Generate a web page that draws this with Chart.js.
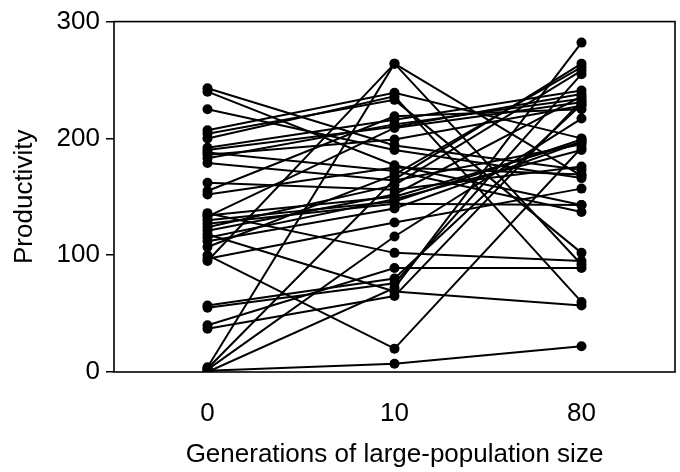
<!DOCTYPE html>
<html>
<head>
<meta charset="utf-8">
<script src="https://cdn.jsdelivr.net/npm/chart.js@4.4.1/dist/chart.umd.min.js"></script>
<style>
  html, body { margin: 0; padding: 0; background: #fff; }
  #wrap { width: 680px; height: 472px; }
</style>
</head>
<body>
<div id="wrap"><canvas id="chart01" width="680" height="472"></canvas></div>
<script>
// generations (x categories)
var generations = ['0', '10', '80'];
var yTicks = [0, 100, 200, 300];

// productivity of each line at generation 0, 10 and 80 (same index = same line)
var gen0  = [243, 240, 225, 207, 204, 200, 192, 188, 186, 183, 179, 162, 155, 152, 136, 133, 130, 127, 124,
             121, 118, 115, 112, 107, 100, 97, 95, 57, 55, 40, 37, 4, 3, 2, 1, 0, 134, 190];
var gen10 = [194, 177, 190, 239, 233, 236, 216, 172, 199, 212, 164, 156, 219, 175, 102, 209, 146, 144, 160,
             152, 69, 148, 140, 169, 20, 128, 264, 80, 76, 89, 65, 264, 165, 116, 7, 72, 150, 210];
var gen80 = [173, 143, 166, 200, 102, 60, 241, 137, 228, 234, 195, 176, 225, 169, 95, 231, 199, 143, 258,
             236, 57, 190, 197, 261, 192, 157, 92, 229, 255, 89, 232, 168, 264, 217, 22, 282, 197, 238];

var FONT = "'Liberation Sans', Arial, Helvetica, sans-serif";

function buildDatasets () {
  var sets = [];
  for (var i = 0; i < gen0.length; i++) {
    sets.push({
      data: [{x: 0, y: gen0[i]}, {x: 1, y: gen10[i]}, {x: 2, y: gen80[i]}],
      showLine: true,
      borderColor: '#000',
      backgroundColor: '#000',
      borderWidth: 2,
      pointRadius: 5,
      pointBorderWidth: 0,
      pointBackgroundColor: '#000'
    });
  }
  return sets;
}

// frame round the plot area
var boxPlugin = {
  id: 'box',
  beforeDatasetsDraw: function (chart) {
    var a = chart.chartArea, c = chart.ctx;
    c.save();
    c.strokeStyle = '#000';
    c.lineWidth = 1.6;
    c.strokeRect(a.left, a.top, a.right - a.left, a.bottom - a.top);
    c.restore();
  }
};

var ctx = document.getElementById('chart01').getContext('2d');
var chart = new Chart(ctx, {
  type: 'scatter',
  data: { datasets: buildDatasets() },
  options: {
    responsive: false,
    animation: false,
    layout: { padding: { top: 19, right: 3, left: 0, bottom: 0 } },
    plugins: { legend: { display: false }, tooltip: { enabled: false } },
    scales: {
      x: {
        type: 'linear',
        min: -0.5,
        max: 2.5,
        afterBuildTicks: function (scale) {
          scale.ticks = generations.map(function (g, i) { return { value: i }; });
        },
        afterFit: function (scale) { scale.height = 100; },
        grid: { display: false, drawTicks: false },
        border: { display: false },
        ticks: {
          color: '#000',
          padding: 26,
          font: { family: FONT, size: 26 },
          callback: function (v) { return generations[v]; }
        },
        title: {
          display: true,
          text: 'Generations of large-population size',
          color: '#000',
          font: { family: FONT, size: 26 },
          padding: { top: 0, bottom: 2 }
        }
      },
      y: {
        min: 0,
        max: 300,
        afterBuildTicks: function (scale) {
          scale.ticks = yTicks.map(function (v) { return { value: v }; });
        },
        afterFit: function (scale) { scale.width = 114; },
        grid: { drawOnChartArea: false, drawTicks: true, tickLength: 8, color: '#000', lineWidth: 1.5 },
        border: { display: false },
        ticks: {
          color: '#000',
          padding: 6,
          font: { family: FONT, size: 26 }
        },
        title: {
          display: true,
          text: 'Productivity',
          color: '#000',
          font: { family: FONT, size: 26 },
          padding: { top: 9, bottom: 0 }
        }
      }
    }
  },
  plugins: [boxPlugin]
});
</script>
</body>
</html>
